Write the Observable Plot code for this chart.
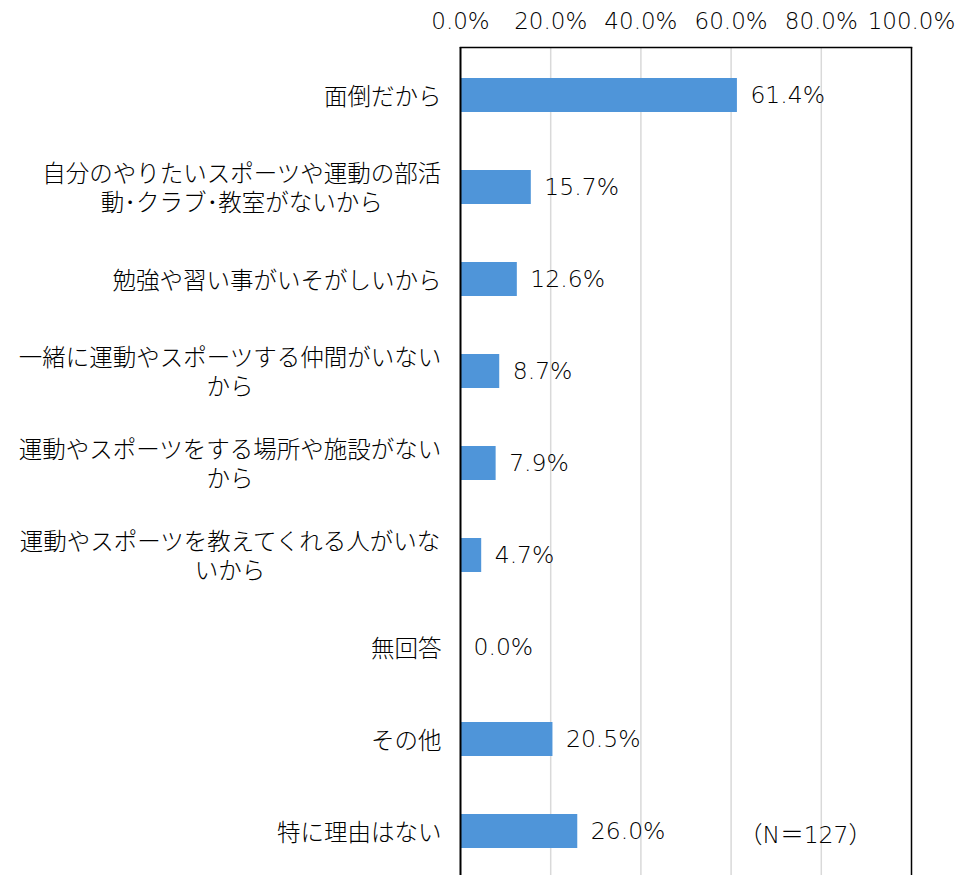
<!DOCTYPE html>
<html>
<head>
<meta charset="utf-8">
<script src="https://cdn.jsdelivr.net/npm/d3@7"></script>
<script src="https://cdn.jsdelivr.net/npm/@observablehq/plot@0.6"></script>
<style>
  html, body { margin: 0; padding: 0; background: #fff; overflow: hidden; }
</style>
</head>
<body>
<div id="chart"></div>
<script>
const categories = [
  "面倒だから",
  "自分のやりたいスポーツや運動の部活\n動･クラブ･教室がないから",
  "勉強や習い事がいそがしいから",
  "一緒に運動やスポーツする仲間がいない\nから",
  "運動やスポーツをする場所や施設がない\nから",
  "運動やスポーツを教えてくれる人がいな\nいから",
  "無回答",
  "その他",
  "特に理由はない"
];
const values = [61.4, 15.7, 12.6, 8.7, 7.9, 4.7, 0.0, 20.5, 26.0];
const xTicks = [0, 20, 40, 60, 80, 100];
const gridTicks = [20, 40, 60, 80];
const note = "（N＝127）";

const FONT = "'Noto Sans CJK JP', 'Noto Sans', sans-serif";
const NUMFONT = "'DejaVu Sans', 'Noto Sans CJK JP', sans-serif";
const FS = 23.5;
const data = categories.map((c, i) => ({category: c, value: values[i]}));

const ctx = document.createElement("canvas").getContext("2d");
ctx.font = `300 ${FS}px ${FONT}`;
const blockWidth = s => Math.max(...s.split("\n").map(l => ctx.measureText(l).width));

const labelMarks = data.map(d =>
  Plot.text([d], {
    y: "category",
    text: "category",
    frameAnchor: "left",
    textAnchor: "middle",
    lineHeight: 1.2,
    dx: -19 - blockWidth(d.category) / 2,
    fontSize: FS,
    fontWeight: 300,
    fontFamily: FONT,
    fill: "#000"
  })
);

const chart = Plot.plot({
  width: 966,
  height: 875,
  marginTop: 47,
  marginLeft: 460,
  marginRight: 55,
  marginBottom: 0,
  style: {fontFamily: NUMFONT, fontSize: "23px", fontWeight: 300, color: "#000", background: "#fff"},
  x: {domain: [0, 100], axis: "top", ticks: xTicks, tickFormat: d => d.toFixed(1) + "%", tickSize: 0, tickPadding: 19, label: null},
  y: {domain: categories, range: [47, 880], paddingInner: 0.63, paddingOuter: 0.315, axis: null},
  marks: [
    Plot.ruleX(gridTicks, {stroke: "#d9d9d9", strokeWidth: 1.5}),
    Plot.barX([{category: categories[categories.length - 1]}], {x1: 55, x2: 97.5, y: "category", fill: "#fff", insetTop: 20, insetBottom: 14}),
    Plot.barX(data, {x: "value", y: "category", fill: "#4f95d9"}),
    Plot.text(data, {x: "value", y: "category", text: d => d.value.toFixed(1) + "%", dx: 13, textAnchor: "start", fontSize: 23.5, fontFamily: NUMFONT, fontWeight: 300, fill: "#000"}),
    Plot.text([{category: categories[categories.length - 1], t: note}], {x: 76.5, y: "category", text: "t", dy: 4, textAnchor: "middle", fontSize: FS, fontFamily: NUMFONT, fontWeight: 300, fill: "#000"}),
    Plot.ruleX([100], {stroke: "#000", strokeWidth: 1.5}),
    Plot.ruleX([0], {stroke: "#000", strokeWidth: 2}),
    Plot.frame({anchor: "top", stroke: "#000", strokeWidth: 1.5}),
    ...labelMarks
  ]
});
document.getElementById("chart").appendChild(chart);
</script>
</body>
</html>
